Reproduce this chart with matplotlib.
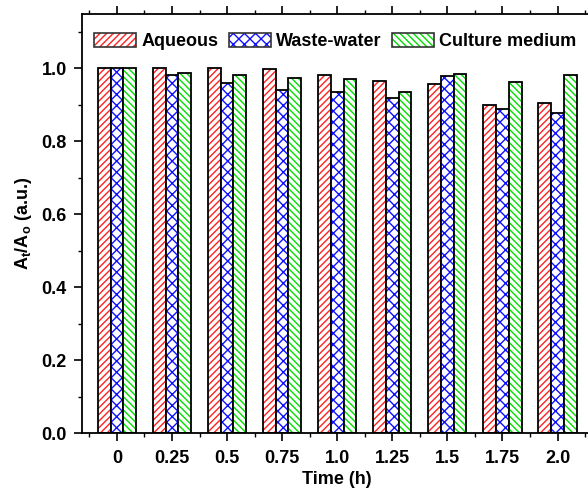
import numpy as np
import matplotlib.pyplot as plt
from matplotlib.patches import Patch
from matplotlib.ticker import MultipleLocator

plt.rcParams['font.family'] = ['Liberation Sans', 'DejaVu Sans']
plt.rcParams['font.weight'] = 'bold'
plt.rcParams['mathtext.fontset'] = 'custom'
plt.rcParams['mathtext.rm'] = 'Liberation Sans:bold'
plt.rcParams['mathtext.it'] = 'Liberation Sans:bold'
plt.rcParams['mathtext.bf'] = 'Liberation Sans:bold'
plt.rcParams['mathtext.default'] = 'rm'
plt.rcParams['hatch.linewidth'] = 1.0

# Datos
tiempos = ['0', '0.25', '0.5', '0.75', '1.0', '1.25', '1.5', '1.75', '2.0']
acuoso = [1.0, 1.0, 1.0, 0.998, 0.980, 0.965, 0.955, 0.900, 0.903]
residual = [1.0, 0.982, 0.960, 0.940, 0.934, 0.919, 0.978, 0.887, 0.876]
cultivo = [1.0, 0.985, 0.982, 0.974, 0.969, 0.934, 0.983, 0.962, 0.980]

series = [
    ('Aqueous', acuoso, '#ff2020', '/' * 5),
    ('Waste-water', residual, '#1010ff', 'x' * 3),
    ('Culture medium', cultivo, '#00e000', '\\' * 5),
]

fig = plt.figure(figsize=(5.88, 4.94), dpi=100)
W, H = 588, 494
ax = fig.add_axes([82 / W, 61 / H, (592 - 82) / W, (433 - 14) / H])

x = np.arange(len(tiempos))
ancho = 0.231
handles = []
for i, (nombre, vals, color, hatch) in enumerate(series):
    pos = x + (i - 1) * ancho
    ax.bar(pos, vals, ancho, color='white', edgecolor=color, hatch=hatch, linewidth=0)
    ax.bar(pos, vals, ancho, fill=False, edgecolor='black', linewidth=1.3)
    h1 = Patch(facecolor='white', edgecolor=color, hatch=hatch, linewidth=0)
    h2 = Patch(fill=False, edgecolor='#333333', linewidth=1.2)
    handles.append((h1, h2))

ax.set_xlim(-0.633, 8.625)
ax.set_ylim(0, 1.148)
ax.set_xticks(x)
ax.set_xticklabels(tiempos)
ax.xaxis.set_minor_locator(MultipleLocator(0.5))
ax.yaxis.set_major_locator(MultipleLocator(0.2))
ax.yaxis.set_minor_locator(MultipleLocator(0.1))
ax.yaxis.set_major_formatter(plt.FormatStrFormatter('%.1f'))

ax.tick_params(axis='both', which='major', direction='out', length=6, width=1.2,
               labelsize=13, pad=5)
ax.tick_params(axis='both', which='minor', direction='out', length=3, width=1.0)
ax.tick_params(axis='x', which='both', top=True)
ax.tick_params(axis='x', which='major', pad=6)
for s in ax.spines.values():
    s.set_linewidth(1.3)

ax.set_xlabel('Time (h)', fontsize=13, fontweight='bold', labelpad=3)
ax.set_ylabel('A$_t$/A$_o$ (a.u.)', fontsize=13, fontweight='bold', labelpad=5)

ax.legend(handles, [s[0] for s in series], ncol=3, frameon=False,
          loc='center', bbox_to_anchor=(0.497, 0.935),
          prop={'size': 13, 'weight': 'bold'},
          handlelength=2.3, handleheight=0.85, handletextpad=0.3,
          columnspacing=0.6, borderpad=0.2)

plt.savefig('out.png', dpi=100)
